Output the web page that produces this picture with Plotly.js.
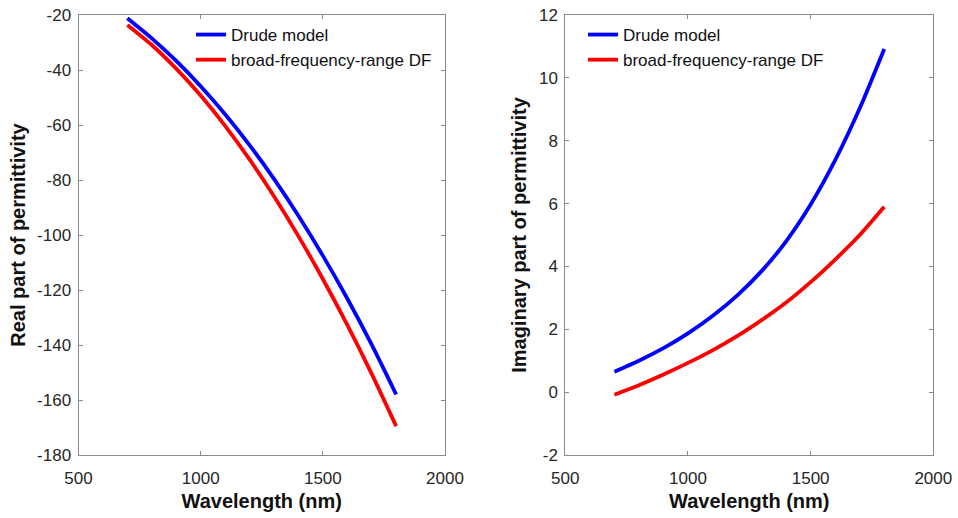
<!DOCTYPE html>
<html>
<head>
<meta charset="utf-8">
<script src="https://cdn.plot.ly/plotly-3.0.1.min.js"></script>
<style>
  html, body { margin: 0; padding: 0; background: #fff; }
  #chart { width: 958px; height: 518px; }
</style>
</head>
<body>
<div id="chart"></div>
<script>
// Wavelength samples (nm)
const wavelength = [700, 800, 900, 1000, 1100, 1200, 1300, 1400, 1500, 1600, 1700, 1800];

// Real part of permittivity
const realDrude = [-21.2, -28.5, -36.7, -45.9, -56.1, -67.3, -79.6, -93.0, -107.5, -123.1, -139.9, -158.0];
const realBroad = [-23.6, -30.9, -39.5, -49.3, -60.3, -72.5, -85.9, -100.4, -116.0, -132.7, -150.5, -169.5];

// Imaginary part of permittivity
const imagDrude = [0.65, 1.0, 1.4, 1.87, 2.42, 3.07, 3.85, 4.8, 5.97, 7.38, 9.03, 10.92];
const imagBroad = [-0.08, 0.22, 0.56, 0.93, 1.33, 1.78, 2.29, 2.85, 3.5, 4.22, 5.0, 5.9];

const seriesNames = ['Drude model', 'broad-frequency-range DF'];
const seriesColors = ['#0000ff', '#ff0000'];

const xTicks = [500, 1000, 1500, 2000];
const realTicks = [-180, -160, -140, -120, -100, -80, -60, -40, -20];
const imagTicks = [-2, 0, 2, 4, 6, 8, 10, 12];

const FONT = 'Liberation Sans, Arial, Helvetica, sans-serif';
const AXIS_GRAY = '#8a8a8a';
const LABEL_COLOR = '#262626';

function line(x, y, i, xa, ya, legend) {
  return {
    x: x, y: y, type: 'scatter', mode: 'lines',
    name: seriesNames[i],
    line: { color: seriesColors[i], width: 3.8, shape: 'spline', smoothing: 0.7 },
    xaxis: xa, yaxis: ya, legend: legend,
    hoverinfo: 'x+y+name'
  };
}

const traces = [
  line(wavelength, realDrude, 0, 'x', 'y', 'legend'),
  line(wavelength, realBroad, 1, 'x', 'y', 'legend'),
  line(wavelength, imagDrude, 0, 'x2', 'y2', 'legend2'),
  line(wavelength, imagBroad, 1, 'x2', 'y2', 'legend2')
];

function xAxis(domain, anchor) {
  return {
    domain: domain, anchor: anchor,
    range: [500, 2000], tickvals: xTicks, ticktext: xTicks.map(String),
    ticks: 'inside', ticklen: 4, tickwidth: 1, tickcolor: AXIS_GRAY,
    showline: true, linecolor: AXIS_GRAY, linewidth: 1, mirror: 'ticks',
    showgrid: false, zeroline: false,
    tickfont: { family: FONT, size: 17, color: LABEL_COLOR },
    ticklabelstandoff: 8,
    title: { text: 'Wavelength (nm)', standoff: 6,
             font: { family: FONT, size: 20, color: '#111', weight: 'bold' } }
  };
}

function yAxis(domain, anchor, range, ticks, title) {
  return {
    domain: domain, anchor: anchor,
    range: range, tickvals: ticks, ticktext: ticks.map(String),
    ticks: 'inside', ticklen: 4, tickwidth: 1, tickcolor: AXIS_GRAY,
    showline: true, linecolor: AXIS_GRAY, linewidth: 1, mirror: 'ticks',
    showgrid: false, zeroline: false,
    tickfont: { family: FONT, size: 17, color: LABEL_COLOR },
    ticklabelstandoff: 3,
    title: { text: title, standoff: 6,
             font: { family: FONT, size: 20, color: '#111', weight: 'bold' } }
  };
}

const W = 958, H = 518;
const yDom = [1 - 455 / H, 1 - 15 / H];

const legendStyle = {
  font: { family: FONT, size: 17, color: '#111' },
  bgcolor: 'rgba(255,255,255,0)', borderwidth: 0,
  xanchor: 'left', yanchor: 'top', tracegroupgap: 0, itemwidth: 30
};

const layout = {
  width: W, height: H,
  margin: { l: 0, r: 0, t: 0, b: 0 },
  paper_bgcolor: '#fff', plot_bgcolor: '#fff',
  font: { family: FONT },
  showlegend: true,
  xaxis: xAxis([78.5 / W, 445 / W], 'y'),
  yaxis: yAxis(yDom, 'x', [-180, -20], realTicks, 'Real part of permittivity'),
  xaxis2: xAxis([565.3 / W, 933.3 / W], 'y2'),
  yaxis2: yAxis(yDom, 'x2', [-2, 12], imagTicks, 'Imaginary part of permittivity'),
  legend: Object.assign({}, legendStyle, { x: 191 / W, y: 1 - 17 / H }),
  legend2: Object.assign({}, legendStyle, { x: 583 / W, y: 1 - 17 / H })
};

Plotly.newPlot('chart', traces, layout, { displayModeBar: false, staticPlot: true });
</script>
</body>
</html>
